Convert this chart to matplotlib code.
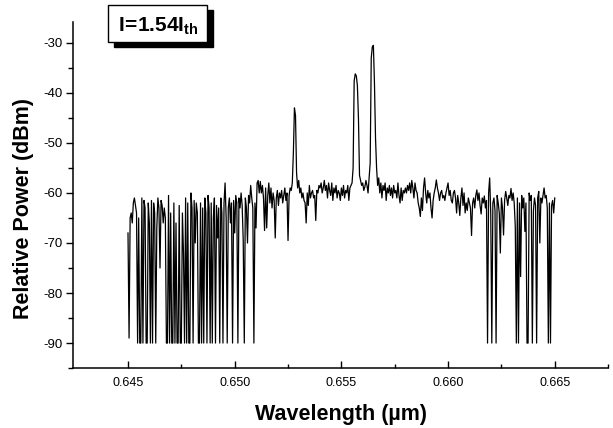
import matplotlib.pyplot as plt
import numpy as np
from matplotlib.patches import Rectangle

plt.rcParams['font.family'] = ['Liberation Sans', 'DejaVu Sans']
plt.rcParams['mathtext.fontset'] = 'custom'
plt.rcParams['mathtext.bf'] = 'Liberation Sans:bold'
plt.rcParams['mathtext.rm'] = 'Liberation Sans'
plt.rcParams['axes.unicode_minus'] = False

# wavelength span of the OSA trace (um)
wl_start, wl_stop = 0.645, 0.665

# relative power (dBm); -90 is the clipped noise floor
power_left = [
    -68, -89, -65, -64, -66, -62, -61, -62.5, -64, -90, -65, -90, -90, -61, -90, -61.5, -63, -90, -90, -62,
    -66, -90, -61.5, -90, -62, -64, -90, -67, -61, -63, -75, -61.5, -62.5, -66, -63, -65, -90, -90, -60.5, -90,
    -64, -90, -90, -62, -90, -66, -90, -90, -62.5, -90, -90, -64, -72, -90, -61, -90, -62, -90, -90, -60,
    -63, -90, -61.5, -70, -62, -64, -90, -90, -62, -90, -63, -90, -61, -64, -90, -60.5, -63, -90, -62, -90,
    -65, -61, -90, -62.5, -69, -63, -90, -61, -64, -90, -62, -58, -65, -90, -63, -61, -66, -62, -90, -61.5,
    -68, -60.5, -62, -90, -61, -63, -60, -62.5, -69.5, -90, -61, -63, -70, -60.5, -62, -58.5, -61, -63, -90, -62,
]
power_mid = [
    -67, -58, -57.5, -60, -57.7, -60, -58.5, -61, -67.5, -59, -67, -60.5, -58, -62, -59, -63, -60, -61.5, -69, -61,
    -59.5, -62.5, -60, -61, -59.5, -62, -60.5, -59, -61.5, -60, -69.5, -60.5, -59, -59.5, -58, -52, -43, -44.5, -56, -59,
    -57.5, -60, -59, -61, -60, -61.5, -62, -66, -60, -62.5, -58.5, -61, -60, -59.5, -61, -60.5, -65.5, -59.5, -60, -58.5,
    -59, -58, -60, -59, -57.5, -59.5, -58.5, -61, -58, -59.5, -60.5, -58, -61.5, -59, -60, -58.5, -61, -59.5, -60, -61.5,
    -59, -60.5, -58.5, -61, -59.5, -60, -58.5, -61.5, -59, -58.5, -58, -55, -37.6, -36.2, -36.6, -38.5, -45, -56.5, -57.5, -58.5,
    -58, -59.5, -58.8, -57.5, -58.5, -60, -57, -54, -33, -30.8, -30.5, -38, -49, -55, -58.5, -57, -60, -58, -61, -58.5,
    -59.5, -58, -61.5, -59, -60, -58.5, -60.5, -59, -61, -58.5, -60, -59.5, -61, -58, -60.5, -62, -59, -61.5, -59.5, -60,
    -59, -60, -58.5, -59.5, -58, -60, -57.5, -59, -61, -58, -59.5, -60, -62, -63, -64.7, -61, -63.5, -59, -57, -60,
    -62, -59.5, -61, -60, -63, -65, -61.5, -60, -59, -57.4, -59, -60, -61.5, -60, -59.5, -61, -60.5, -61.5, -60, -59,
]
power_right = [
    -58, -60.5, -59.5, -61.5, -62, -60, -59.5, -61, -64, -60.5, -62, -64.5, -61, -59, -62.5, -60, -64, -62, -63.5, -61,
    -62, -63, -68.5, -62, -61, -63, -60.5, -59.4, -61.5, -60, -62.5, -64.2, -61, -62, -60.6, -63, -61.5, -90, -60, -57,
    -64, -90, -62, -61, -63.5, -90, -60.5, -62, -64, -72, -61, -63, -68.4, -61.5, -59.7, -61, -62.5, -60.5, -61, -59.1,
    -61.5, -60, -62, -66.7, -90, -61, -90, -62, -76.7, -60.5, -63, -61, -67.7, -62, -90, -90, -60, -61.5, -60.5, -90,
    -63.5, -61, -62.5, -90, -61, -59.7, -70, -61, -62, -60.5, -59, -61, -60.5, -63, -90, -62, -90, -62.5, -61.5, -64, -61,
]

power = np.array(power_left + power_mid + power_right)
wl = np.linspace(wl_start, wl_stop, len(power))

fig = plt.figure(figsize=(6.13, 4.28), dpi=100)
ax = fig.add_axes([0.119, 0.140, 0.873, 0.809])

ax.plot(wl, power, color='black', linewidth=0.9)

ax.set_xlim(0.64242, 0.66748)
ax.set_ylim(-95, -25.8)
ax.set_xticks([0.645, 0.650, 0.655, 0.660, 0.665])
ax.set_xticklabels(['0.645', '0.650', '0.655', '0.660', '0.665'])
ax.set_xticks(np.arange(0.6475, 0.668, 0.005), minor=True)
ax.set_yticks([-90, -80, -70, -60, -50, -40, -30])
ax.set_yticks(np.arange(-95, -25, 5), minor=True)

for s in ['top', 'right']:
    ax.spines[s].set_visible(False)
for s in ['left', 'bottom']:
    ax.spines[s].set_linewidth(1.1)

ax.tick_params(axis='x', which='major', direction='in', length=5, width=1, pad=6.5, labelsize=9)
ax.tick_params(axis='x', which='minor', direction='in', length=3, width=1)
ax.tick_params(axis='y', which='major', direction='out', length=5, width=1, pad=2.4, labelsize=9.5)
ax.tick_params(axis='y', which='minor', direction='out', length=3.5, width=1)

ax.set_xlabel('Wavelength (\u00b5m)', fontsize=15.5, fontweight='bold')
ax.set_ylabel('Relative Power (dBm)', fontsize=15.5, fontweight='bold')
ax.xaxis.set_label_coords(0.5, -0.104)
ax.yaxis.set_label_coords(-0.073, 0.461)

# label box with drop shadow
W, H = 613, 428
fig.patches.append(Rectangle((114 / W, (H - 47) / H), 99 / W, 37 / H,
                             transform=fig.transFigure, facecolor='black',
                             edgecolor='black', zorder=5))
fig.patches.append(Rectangle((108 / W, (H - 42) / H), 99 / W, 37 / H,
                             transform=fig.transFigure, facecolor='white',
                             edgecolor='black', linewidth=1, zorder=6))
fig.text(118 / W, (H - 32) / H, r'$\mathbf{I\!=\!1.54I_{th}}$', fontsize=15,
         va='baseline', ha='left', zorder=7)

fig.savefig('out.png', dpi=100)
